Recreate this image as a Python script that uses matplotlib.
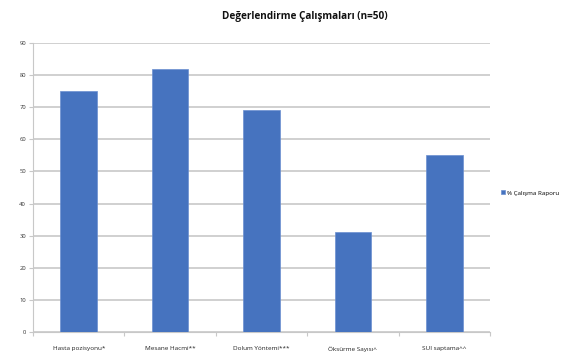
import matplotlib
matplotlib.use("Agg")
import matplotlib.pyplot as plt
import numpy as np

categories = ["Hasta pozisyonu*", "Mesane Hacmi**", "Dolum Yöntemi***", "Öksürme Sayısı^", "SUI saptama^^"]
values = [75, 82, 69, 31, 55]
series_name = "% Çalışma Raporu"
yticks = [0, 10, 20, 30, 40, 50, 60, 70, 80, 90]

plt.rcParams['font.family'] = ['Open Sans', 'DejaVu Sans']

fig = plt.figure(figsize=(5.63, 3.54), dpi=100)
ax = fig.add_axes([0.0586, 0.0621, 0.8117, 0.8164])

x = np.arange(len(categories))
ax.bar(x, values, width=0.40, color="#4673BF", edgecolor="#6a8fd0", linewidth=0.5,
       label=series_name, zorder=3)

ax.set_xlim(-0.5, len(categories) - 0.5)
ax.set_ylim(0, 90)
ax.set_yticks(yticks)
ax.set_yticklabels([str(t) for t in yticks], fontsize=4.2, color="#333333")
ax.yaxis.grid(True, color="#c8c8c8", linewidth=1.2, zorder=0)
ax.set_xticks(x)
ax.set_xticklabels(categories, fontsize=4.6, color="#222222")
ax.set_xticks(np.arange(-0.5, len(categories)), minor=True)
ax.tick_params(axis='x', which='major', length=0, pad=10)
ax.tick_params(axis='x', which='minor', length=3, color="#c8c8c8", width=0.8)
ax.tick_params(axis='y', length=3, color="#c8c8c8", width=0.8, pad=2)

for s in ['top', 'right']:
    ax.spines[s].set_visible(False)
for s in ['left', 'bottom']:
    ax.spines[s].set_color("#c8c8c8")
    ax.spines[s].set_linewidth(0.8)

fig.text(0.542, 0.953, "Değerlendirme Çalışmaları (n=50)", ha='center', va='center',
         fontsize=7.2, fontweight='bold', color="#111111")

leg = fig.legend(loc='center left', bbox_to_anchor=(0.880, 0.455), frameon=False,
                 fontsize=4.5, handlelength=0.6, handleheight=0.6, handletextpad=0.4)

fig.savefig("out.png", dpi=100)
